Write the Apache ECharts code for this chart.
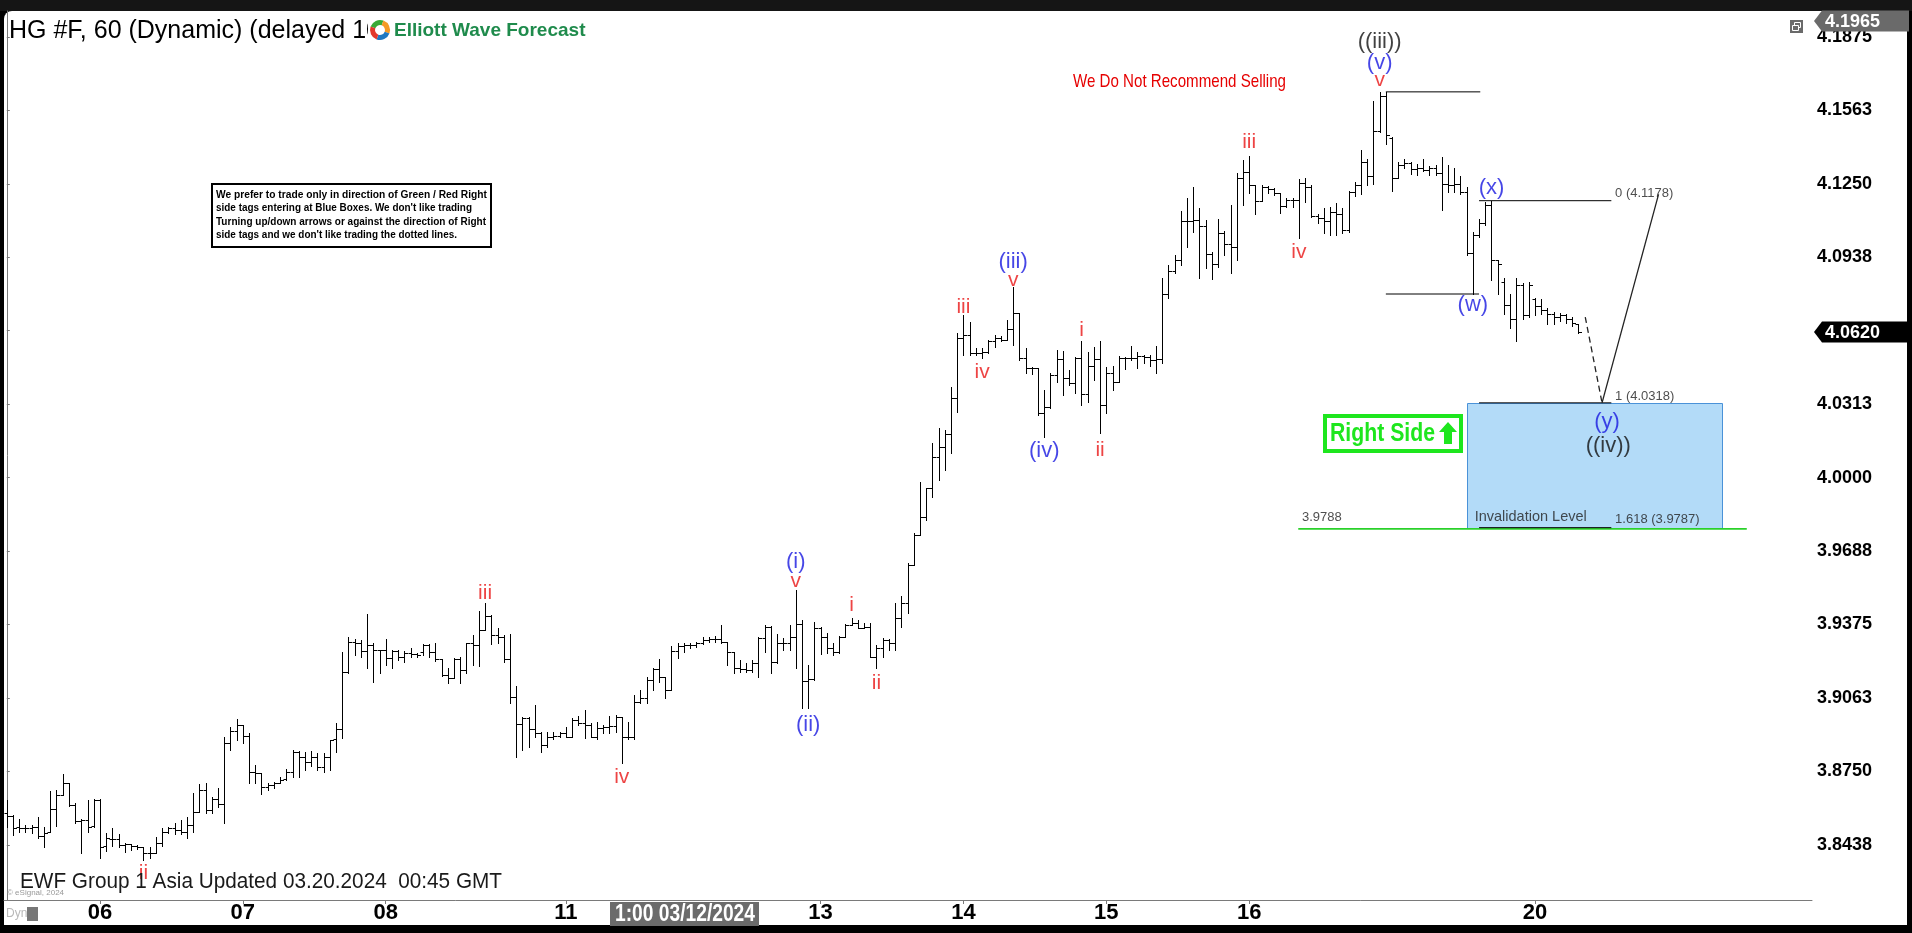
<!DOCTYPE html>
<html><head><meta charset="utf-8">
<script src="https://cdn.jsdelivr.net/npm/echarts@6/dist/echarts.min.js"></script>
<style>
html,body{margin:0;padding:0;background:#000;width:1912px;height:933px;overflow:hidden}
#topbar{position:absolute;left:0;top:0;width:1912px;height:11px;background:#151515}
#panel{position:absolute;left:4px;top:11px;width:1903px;height:914px;background:#fff;border-radius:8px 8px 0 0}
#chart{position:absolute;left:0;top:0;width:1912px;height:933px}
</style></head><body>
<div id="topbar"></div><div id="panel"></div><div id="chart"></div>
<script>
// ---------------- DATA ----------------
const opens = [3.8572,3.8560,3.8515,3.8511,3.8511,3.8515,3.8475,3.8494,3.8589,3.8650,
3.8699,3.8607,3.8541,3.8543,3.8519,3.8629,3.8433,3.8461,3.8461,3.8437,
3.8441,3.8433,3.8427,3.8402,3.8404,3.8444,3.8494,3.8508,3.8501,3.8494,
3.8522,3.8579,3.8671,3.8586,3.8631,3.8610,3.8872,3.8923,3.8948,3.8901,
3.8749,3.8742,3.8685,3.8692,3.8699,3.8716,3.8749,3.8834,3.8813,3.8792,
3.8813,3.8770,3.8813,3.8887,3.8929,3.9174,3.9302,3.9295,3.9264,3.9288,
3.9267,3.9267,3.9231,3.9264,3.9238,3.9252,3.9248,3.9260,3.9288,3.9260,
3.9227,3.9160,3.9146,3.9227,3.9182,3.9295,3.9288,3.9352,3.9413,3.9330,
3.9323,3.9227,3.9068,3.8952,3.8976,3.8929,3.8912,3.8862,3.8898,3.8901,
3.8912,3.8898,3.8969,3.8957,3.8948,3.8898,3.8933,3.8938,3.8943,3.8980,
3.8898,3.8898,3.9047,3.9061,3.9139,3.9184,3.9153,3.9097,3.9264,3.9284,
3.9288,3.9288,3.9295,3.9309,3.9312,3.9312,3.9302,3.9260,3.9189,3.9184,
3.9182,3.9210,3.9319,3.9366,3.9217,3.9295,3.9298,3.9323,3.9377,3.9136,
3.9142,3.9359,3.9323,3.9274,3.9260,3.9323,3.9373,3.9383,3.9362,3.9366,
3.9236,3.9274,3.9309,3.9298,3.9401,3.9465,3.9628,3.9756,3.9834,3.9955,
4.0089,4.0132,4.0186,4.0337,4.0593,4.0607,4.0529,4.0532,4.0536,4.0579,
4.0593,4.0586,4.0631,4.0699,4.0508,4.0465,4.0465,4.0274,4.0302,4.0437,
4.0503,4.0422,4.0404,4.0510,4.0356,4.0475,4.0503,4.0309,4.0447,4.0408,
4.0508,4.0510,4.0508,4.0517,4.0515,4.0500,4.0503,4.0781,4.0881,4.0926,
4.1093,4.1093,4.1096,4.1071,4.0950,4.0907,4.1039,4.0994,4.0980,4.1276,
4.1302,4.1245,4.1178,4.1238,4.1227,4.1210,4.1156,4.1181,4.1181,4.1252,
4.1236,4.1114,4.1104,4.1092,4.1130,4.1122,4.1054,4.1213,4.1243,4.1342,
4.1281,4.1474,4.1623,4.1443,4.1274,4.1331,4.1337,4.1312,4.1319,4.1307,
4.1319,4.1296,4.1251,4.1243,4.1251,4.1216,4.0955,4.1031,4.1084,4.1160,
4.0925,4.0834,4.0735,4.0675,4.0819,4.0690,4.0758,4.0728,4.0712,4.0697,
4.0682,4.0690,4.0675,4.0652];
const highs = [3.8629,3.8565,3.8546,3.8522,3.8522,3.8558,3.8515,3.8667,3.8671,3.8738,
3.8702,3.8614,3.8546,3.8629,3.8631,3.8631,3.8487,3.8508,3.8484,3.8444,
3.8441,3.8437,3.8430,3.8427,3.8470,3.8508,3.8515,3.8529,3.8543,3.8558,
3.8657,3.8697,3.8702,3.8643,3.8681,3.8898,3.8940,3.8972,3.8948,3.8912,
3.8777,3.8742,3.8699,3.8706,3.8728,3.8759,3.8841,3.8838,3.8834,3.8838,
3.8827,3.8827,3.8884,3.8958,3.9260,3.9321,3.9312,3.9309,3.9420,3.9295,
3.9267,3.9312,3.9267,3.9267,3.9264,3.9274,3.9255,3.9292,3.9292,3.9295,
3.9227,3.9189,3.9231,3.9235,3.9298,3.9330,3.9433,3.9468,3.9416,3.9359,
3.9330,3.9335,3.9113,3.8980,3.8980,3.9033,3.8919,3.8919,3.8919,3.8919,
3.8940,3.8976,3.8986,3.9011,3.8955,3.8962,3.8948,3.8986,3.8990,3.8980,
3.8962,3.9075,3.9097,3.9153,3.9189,3.9227,3.9153,3.9284,3.9298,3.9298,
3.9295,3.9302,3.9321,3.9323,3.9328,3.9373,3.9302,3.9260,3.9224,3.9210,
3.9224,3.9323,3.9373,3.9369,3.9335,3.9316,3.9373,3.9522,3.9394,3.9203,
3.9387,3.9366,3.9338,3.9295,3.9326,3.9377,3.9401,3.9394,3.9380,3.9380,
3.9288,3.9316,3.9312,3.9465,3.9497,3.9635,3.9763,3.9983,3.9955,4.0146,
4.0210,4.0203,4.0387,4.0614,4.0692,4.0664,4.0550,4.0550,4.0586,4.0607,
4.0603,4.0671,4.0812,4.0699,4.0550,4.0472,4.0465,4.0373,4.0444,4.0543,
4.0540,4.0458,4.0515,4.0579,4.0536,4.0557,4.0583,4.0469,4.0475,4.0517,
4.0515,4.0560,4.0536,4.0522,4.0522,4.0560,4.0848,4.0905,4.0947,4.1136,
4.1188,4.1235,4.1146,4.1096,4.0961,4.1099,4.1051,4.1160,4.1297,4.1351,
4.1368,4.1245,4.1245,4.1241,4.1231,4.1210,4.1188,4.1188,4.1269,4.1273,
4.1243,4.1122,4.1145,4.1152,4.1168,4.1145,4.1221,4.1259,4.1395,4.1357,
4.1600,4.1641,4.1641,4.1448,4.1342,4.1357,4.1342,4.1334,4.1357,4.1327,
4.1331,4.1365,4.1331,4.1319,4.1281,4.1236,4.1046,4.1099,4.1171,4.1178,
4.0925,4.0849,4.0781,4.0849,4.0826,4.0834,4.0766,4.0758,4.0720,4.0705,
4.0700,4.0697,4.0682,4.0652];
const lows = [3.8515,3.8480,3.8494,3.8494,3.8487,3.8465,3.8427,3.8494,3.8519,3.8650,
3.8604,3.8529,3.8404,3.8494,3.8515,3.8380,3.8412,3.8434,3.8430,3.8409,
3.8416,3.8419,3.8373,3.8383,3.8402,3.8434,3.8489,3.8484,3.8484,3.8465,
3.8494,3.8579,3.8572,3.8572,3.8600,3.8529,3.8841,3.8884,3.8872,3.8702,
3.8702,3.8653,3.8671,3.8681,3.8699,3.8714,3.8728,3.8728,3.8756,3.8773,
3.8756,3.8749,3.8756,3.8834,3.8891,3.9167,3.9245,3.9238,3.9189,3.9132,
3.9167,3.9203,3.9189,3.9224,3.9217,3.9238,3.9238,3.9245,3.9238,3.9221,
3.9156,3.9128,3.9146,3.9128,3.9167,3.9203,3.9199,3.9352,3.9292,3.9298,
3.9217,3.9040,3.8813,3.8841,3.8853,3.8898,3.8834,3.8853,3.8887,3.8898,
3.8898,3.8898,3.8948,3.8891,3.8898,3.8887,3.8912,3.8915,3.8919,3.8785,
3.8887,3.8887,3.9040,3.9040,3.9097,3.9132,3.9061,3.9097,3.9231,3.9260,
3.9274,3.9281,3.9292,3.9302,3.9302,3.9295,3.9203,3.9170,3.9174,3.9174,
3.9174,3.9150,3.9260,3.9167,3.9210,3.9267,3.9267,3.9189,3.9018,3.9018,
3.9139,3.9250,3.9253,3.9246,3.9255,3.9323,3.9373,3.9359,3.9359,3.9236,
3.9189,3.9238,3.9267,3.9267,3.9366,3.9423,3.9628,3.9756,3.9820,3.9919,
3.9990,4.0032,4.0103,4.0281,4.0522,4.0522,4.0522,4.0508,4.0529,4.0554,
4.0579,4.0586,4.0564,4.0501,4.0444,4.0441,4.0267,4.0174,4.0295,4.0408,
4.0352,4.0394,4.0359,4.0309,4.0323,4.0415,4.0189,4.0276,4.0373,4.0408,
4.0461,4.0500,4.0465,4.0489,4.0475,4.0447,4.0486,4.0763,4.0869,4.0905,
4.0980,4.1046,4.0848,4.0890,4.0844,4.0898,4.0947,4.0872,4.0926,4.1160,
4.1210,4.1122,4.1175,4.1210,4.1202,4.1127,4.1150,4.1153,4.1018,4.1174,
4.1107,4.1084,4.1039,4.1034,4.1031,4.1039,4.1046,4.1198,4.1205,4.1243,
4.1251,4.1471,4.1418,4.1221,4.1274,4.1319,4.1292,4.1289,4.1304,4.1286,
4.1286,4.1137,4.1213,4.1216,4.1205,4.0948,4.0781,4.1023,4.1073,4.0841,
4.0781,4.0697,4.0637,4.0579,4.0675,4.0682,4.0690,4.0697,4.0652,4.0652,
4.0667,4.0659,4.0644,4.0614];
const closes = [3.8560,3.8508,3.8511,3.8511,3.8515,3.8475,3.8489,3.8589,3.8650,3.8699,
3.8607,3.8541,3.8543,3.8515,3.8629,3.8430,3.8465,3.8461,3.8437,3.8441,
3.8433,3.8427,3.8402,3.8404,3.8444,3.8494,3.8508,3.8501,3.8494,3.8522,
3.8579,3.8671,3.8586,3.8631,3.8610,3.8870,3.8923,3.8948,3.8901,3.8749,
3.8742,3.8685,3.8692,3.8699,3.8714,3.8749,3.8834,3.8813,3.8792,3.8813,
3.8770,3.8813,3.8884,3.8929,3.9174,3.9302,3.9295,3.9264,3.9288,3.9267,
3.9267,3.9231,3.9264,3.9235,3.9252,3.9248,3.9245,3.9288,3.9260,3.9227,
3.9160,3.9146,3.9227,3.9182,3.9295,3.9288,3.9352,3.9413,3.9330,3.9323,
3.9227,3.9068,3.8952,3.8976,3.8929,3.8912,3.8862,3.8898,3.8901,3.8912,
3.8898,3.8969,3.8957,3.8948,3.8898,3.8933,3.8938,3.8943,3.8980,3.8898,
3.8898,3.9047,3.9061,3.9139,3.9184,3.9153,3.9097,3.9264,3.9284,3.9288,
3.9288,3.9295,3.9309,3.9312,3.9312,3.9302,3.9260,3.9189,3.9184,3.9182,
3.9210,3.9319,3.9366,3.9217,3.9295,3.9298,3.9323,3.9377,3.9136,3.9142,
3.9359,3.9323,3.9274,3.9260,3.9323,3.9373,3.9383,3.9362,3.9366,3.9236,
3.9274,3.9309,3.9298,3.9401,3.9465,3.9628,3.9756,3.9834,3.9955,4.0089,
4.0132,4.0186,4.0337,4.0593,4.0607,4.0529,4.0532,4.0536,4.0579,4.0593,
4.0586,4.0631,4.0699,4.0508,4.0465,4.0465,4.0274,4.0302,4.0437,4.0503,
4.0422,4.0404,4.0510,4.0356,4.0475,4.0503,4.0309,4.0447,4.0408,4.0508,
4.0510,4.0508,4.0517,4.0515,4.0500,4.0503,4.0781,4.0881,4.0926,4.1093,
4.1093,4.1096,4.1071,4.0950,4.0907,4.1039,4.0994,4.0980,4.1276,4.1302,
4.1245,4.1178,4.1238,4.1227,4.1210,4.1156,4.1181,4.1181,4.1252,4.1235,
4.1114,4.1104,4.1092,4.1130,4.1122,4.1054,4.1213,4.1243,4.1342,4.1281,
4.1474,4.1623,4.1456,4.1274,4.1331,4.1337,4.1312,4.1319,4.1307,4.1319,
4.1296,4.1251,4.1243,4.1251,4.1216,4.0955,4.1031,4.1084,4.1160,4.0925,
4.0910,4.0735,4.0675,4.0819,4.0690,4.0819,4.0728,4.0712,4.0697,4.0682,
4.0690,4.0675,4.0659,4.0620];

// x axis (bar index) ticks
const dayTickIdx = [15, 38, 61, 90, 131, 154, 177, 200, 246];
const dayTickLabels = ['06', '07', '08', '11', '13', '14', '15', '16', '20'];
const crossIdx = 109.2;
const crossLabel = '1:00 03/12/2024';
// y axis ticks
const yTicks = [3.84375, 3.875, 3.90625, 3.9375, 3.96875, 4.0, 4.03125, 4.0625, 4.09375, 4.125, 4.15625, 4.1875];
const yTickLabels = ['3.8438', '3.8750', '3.9063', '3.9375', '3.9688', '4.0000', '4.0313', '4.0625', '4.0938', '4.1250', '4.1563', '4.1875'];
const tagPrices = [4.0620, 4.1965];
const tagTexts = ['4.0620', '4.1965'];

// wave labels [barIndex, price, text]
const waveRed = [[22,3.8318,'ii'],[77,3.9507,'iii'],[99,3.8726,'iv'],[127,3.9560,'v'],
  [136,3.9458,'i'],[140,3.9126,'ii'],[154,4.0726,'iii'],[157,4.0449,'iv'],[162,4.0841,'v'],
  [173,4.0628,'i'],[176,4.0118,'ii'],[200,4.1428,'iii'],[208,4.0960,'iv'],[221,4.1692,'v']];
const waveBlue = [[127,3.9641,'(i)'],[129,3.8948,'(ii)'],[162,4.0917,'(iii)'],[167,4.0113,'(iv)'],
  [221,4.1764,'(v)'],[236,4.0734,'(w)'],[239,4.1232,'(x)'],[257.6,4.0237,'(y)']];
const waveBlack = [[221,4.1853,'((iii))'],[257.8,4.0135,'((iv))']];

// fibonacci tool segments
const fibSegments = [
  [[222.0,4.1641],[237.2,4.1641]],
  [[222.0,4.0781],[237.0,4.0781]],
  [[237.0,4.1178],[258.3,4.1178]],
  [[237.0,4.0318],[258.3,4.0318]],
  [[237.0,3.9787],[258.3,3.9787]]
];
const fibLabels = [[258.9,4.1207,'0 (4.1178)'],[258.9,4.0347,'1 (4.0318)'],[258.9,3.9824,'1.618 (3.9787)'],
  [236.3,3.9832,'Invalidation Level'],[208.5,3.9832,'3.9788']];
const invalidationLine = [[207.9,3.9782],[280.1,3.9782]];
const projDashed = [[254.1,4.0683],[256.8,4.0318]];
const projSolid = [[256.8,4.0318],[265.9,4.1205]];
const blueBox = [235.1, 276.1, 3.9787, 4.0318];

// ---------------- FONTS ----------------
const mctx = document.createElement('canvas').getContext('2d');
function hasFont(f){ mctx.font='40px monospace'; const a=mctx.measureText('abcdefghijWWWiii').width;
  mctx.font="40px '"+f+"', monospace"; return Math.abs(mctx.measureText('abcdefghijWWWiii').width-a)>0.5; }
const SANS = "'Liberation Sans', Arial, sans-serif";
const NARROW = hasFont('Liberation Sans Narrow') ? "'Liberation Sans Narrow'" : (hasFont('Arial Narrow') ? "'Arial Narrow'" : SANS);
// horizontal scale so that a text set in `font` spans `width` pixels (emulates a condensed face)
function sx(text, font, width){ mctx.font = font; return width / mctx.measureText(text).width; }
const fCross = 'bold 23px ' + NARROW;
const discLines = ['We prefer to trade only in direction of Green / Red Right','side tags entering at Blue Boxes. We don\'t like trading','Turning up/down arrows or against the direction of Right','side tags and we don\'t like trading the dotted lines.'];
const discWidths = [271, 256, 270, 241];
const fDisc = 'bold 11.5px ' + NARROW;
const ewfText = 'EWF Group 1 Asia Updated 03.20.2024  00:45 GMT';
const fEwf = '22px ' + NARROW;
const sellText = 'We Do Not Recommend Selling';
const fSell = '18.5px ' + NARROW;
const fRS = 'bold 26px ' + NARROW;

// ---------------- CHART ----------------
const chart = echarts.init(document.getElementById('chart'), null, {renderer:'canvas'});
const ohlcData = opens.map((o,i)=>[i, o, highs[i], lows[i], closes[i]]);
const px = v => Math.round(v) + 0.5;

function ohlcRender(params, api){
  const i = api.value(0);
  const o = api.coord([i, api.value(1)]), h = api.coord([i, api.value(2)]);
  const l = api.coord([i, api.value(3)]), c = api.coord([i, api.value(4)]);
  const x = px(o[0]);
  const st = {stroke:'#000', lineWidth:1};
  return {type:'group', children:[
    {type:'line', shape:{x1:x, y1:Math.round(h[1]), x2:x, y2:Math.round(l[1])+1}, style:st},
    {type:'line', shape:{x1:x-3, y1:px(o[1]), x2:x, y2:px(o[1])}, style:st},
    {type:'line', shape:{x1:x, y1:px(c[1]), x2:x+3.5, y2:px(c[1])}, style:st}
  ]};
}
function labelSeries(arr, color, size){
  return {type:'scatter', data:arr.map(d=>[d[0],d[1]]), symbolSize:0, silent:true, z:6, clip:false,
    itemStyle:{color:'transparent'},
    label:{show:true, position:'inside', formatter:p=>arr[p.dataIndex][2], color:color, fontSize:size, fontFamily:SANS}};
}
function segSeries(data, color, width, type, z){
  return {type:'line', data:data, symbol:'none', silent:true, z:z||4, clip:false,
    lineStyle:{color:color, width:width, type:type||'solid'}};
}
const series = [];
series.push({type:'custom', data:[blueBox], z:1, clip:false, silent:true,
  renderItem:(p,api)=>{ const a=api.coord([api.value(0),api.value(3)]); const b=api.coord([api.value(1),api.value(2)]);
    return {type:'rect', shape:{x:px(a[0]), y:px(a[1]), width:Math.round(b[0]-a[0]), height:Math.round(b[1]-a[1])},
      style:{fill:'#b3dbf8', stroke:'#4a92d8', lineWidth:1}}; }});
series.push({type:'custom', data:ohlcData, z:3, silent:true, renderItem:ohlcRender});
fibSegments.forEach(s=>series.push(segSeries(s,'#000',1)));
series.push(segSeries(invalidationLine,'#2ad12a',1.6,'solid',3));
series.push(segSeries(projDashed,'#222',1.3,[6,4]));
series.push(segSeries(projSolid,'#222',1.3));
series.push(labelSeries(waveRed,'#e81515',21));
series.push(labelSeries(waveBlue,'#1818e0',22));
series.push(labelSeries(waveBlack,'#111',22));
series.push({type:'scatter', symbolSize:0, silent:true, z:6, clip:false,
  data:fibLabels.map((d,i)=>({value:[d[0],d[1]], label: i===3 ? {fontSize:14.5} : {}})),
  itemStyle:{color:'transparent'},
  label:{show:true, position:'right', distance:0, formatter:p=>fibLabels[p.dataIndex][2], color:'#222', fontSize:13, fontFamily:SANS}});
// price tags on y axis (kept inside the panel)
series.push({type:'custom', data:tagPrices.map(v=>[290.6, v]), z:20, clip:false, silent:true,
  renderItem:(p,api)=>{ const c=api.coord([api.value(0),api.value(1)]); const x0=c[0]+2;
    const yc=Math.max(Math.round(c[1]), 21);
    const fill = p.dataIndex===0 ? '#000' : '#6a6a6a';
    return {type:'group', children:[
      {type:'polygon', shape:{points:[[x0,yc],[x0+8,yc-10.5],[x0+95,yc-10.5],[x0+95,yc+10.5],[x0+8,yc+10.5]]}, style:{fill:fill}},
      {type:'text', style:{text:tagTexts[p.dataIndex], x:x0+11, y:yc+1, fill:'#fff', font:'bold 18px '+SANS, align:'left', verticalAlign:'middle', textAlign:'left', textVerticalAlign:'middle'}}
    ]}; }});
// crosshair time tag on x axis
series.push({type:'custom', data:[[crossIdx, 3.8203]], z:20, clip:false, silent:true,
  renderItem:(p,api)=>{ const c=api.coord([api.value(0),api.value(1)]); const xc=Math.round(c[0]), y0=Math.round(c[1])+2;
    return {type:'group', children:[
      {type:'rect', shape:{x:xc-75, y:y0, width:149, height:24}, style:{fill:'#6b6b6b'}},
      {type:'text', x:xc, y:y0+13, scaleX:sx(crossLabel,fCross,140), style:{text:crossLabel, x:0, y:0, fill:'#fff', font:fCross, align:'center', verticalAlign:'middle', textAlign:'center', textVerticalAlign:'middle'}}
    ]}; }});

// graphic overlays
const G = [];
G.push({type:'text', x:9, y:31, z:50, style:{text:'HG #F, 60 (Dynamic) (delayed 10', fill:'#000', font:'25px '+SANS, verticalAlign:'middle', textVerticalAlign:'middle'}});
G.push({type:'rect', x:368, y:14, z:51, shape:{width:230, height:32}, style:{fill:'#fff'}});
[['#3aa935',200,290],['#f59a23',290,20],['#1f78c1',20,110],['#e2382c',110,200]].forEach(a=>{
  G.push({type:'arc', z:52, shape:{cx:380, cy:30, r:7.5, startAngle:a[1]*Math.PI/180, endAngle:a[2]*Math.PI/180}, style:{stroke:a[0], lineWidth:5, fill:null}});
});
G.push({type:'text', x:394, y:31, z:52, style:{text:'Elliott Wave Forecast', fill:'#1f8b4c', font:'bold 19px '+SANS, verticalAlign:'middle', textVerticalAlign:'middle'}});
G.push({type:'rect', x:1790, y:20, z:50, shape:{width:13, height:13}, style:{fill:'#6a6a6a'}});
G.push({type:'rect', x:1794.5, y:22.5, z:51, shape:{width:6, height:5}, style:{fill:null, stroke:'#fff', lineWidth:1}});
G.push({type:'rect', x:1792.5, y:25.5, z:51, shape:{width:6, height:5}, style:{fill:'#6a6a6a', stroke:'#fff', lineWidth:1}});
G.push({type:'text', x:1073, y:82, z:50, scaleX:sx(sellText,fSell,213), style:{text:sellText, fill:'#e60000', font:fSell, verticalAlign:'middle', textVerticalAlign:'middle'}});
G.push({type:'rect', x:212, y:184, z:50, shape:{width:279, height:63}, style:{fill:'#fff', stroke:'#000', lineWidth:2}});
discLines.forEach((t,k)=>G.push({type:'text', x:216, y:194.5+k*13.5, z:51, scaleX:sx(t,fDisc,discWidths[k]), style:{text:t, fill:'#000', font:fDisc, verticalAlign:'middle', textVerticalAlign:'middle'}}));
G.push({type:'rect', x:1325, y:416, z:50, shape:{width:136, height:35}, style:{fill:'#fff', stroke:'#1ee61e', lineWidth:4}});
G.push({type:'text', x:1330, y:434, z:51, scaleX:sx('Right Side',fRS,105), style:{text:'Right Side', fill:'#1ee61e', font:fRS, verticalAlign:'middle', textVerticalAlign:'middle'}});
G.push({type:'polygon', z:51, shape:{points:[[1448,422],[1457,432],[1452,432],[1452,444],[1444,444],[1444,432],[1439,432]]}, style:{fill:'#1ee61e'}});
G.push({type:'text', x:20, y:882, z:50, scaleX:sx(ewfText,fEwf,482), style:{text:ewfText, fill:'#1a1a1a', font:fEwf, verticalAlign:'middle', textVerticalAlign:'middle', shadowBlur:3, shadowColor:'rgba(0,0,0,0.55)', shadowOffsetX:2, shadowOffsetY:2}});
G.push({type:'text', x:7, y:893, z:49, style:{text:'© eSignal, 2024', fill:'#999', font:'8px '+SANS, verticalAlign:'middle', textVerticalAlign:'middle'}});
G.push({type:'text', x:6, y:914, z:50, style:{text:'Dyn', fill:'#b8b8b8', font:'12px '+NARROW, verticalAlign:'middle', textVerticalAlign:'middle'}});
G.push({type:'rect', x:27, y:907, z:50, shape:{width:11, height:14}, style:{fill:'#777'}});

chart.setOption({
  animation:false,
  backgroundColor:'transparent',
  grid:{left:4, top:11, width:1808, height:889, containLabel:false, outerBoundsMode:'none', show:false},
  xAxis:{type:'value', min:-0.45, max:290.6, position:'bottom',
    axisLine:{show:true, onZero:false, lineStyle:{color:'#7a7a7a', width:1}},
    axisTick:{show:true, customValues:dayTickIdx, length:4, lineStyle:{color:'#7a7a7a'}},
    axisLabel:{show:true, customValues:dayTickIdx, margin:2, color:'#000', fontWeight:'bold', fontFamily:NARROW, fontSize:22,
      formatter:v=>{const k=dayTickIdx.findIndex(t=>Math.abs(t-v)<1e-6); return k<0?'':dayTickLabels[k];}},
    splitLine:{show:false}},
  yAxis:{type:'value', position:'right', min:3.8203, max:4.1985,
    axisLine:{show:true, lineStyle:{color:'#7a7a7a', width:1}},
    axisTick:{show:true, customValues:yTicks, length:3, inside:false, lineStyle:{color:'#7a7a7a'}},
    axisLabel:{show:true, customValues:yTicks, margin:5, color:'#000', fontWeight:'bold', fontSize:18, fontFamily:SANS,
      formatter:v=>{const k=yTicks.findIndex(t=>Math.abs(t-v)<1e-6); return k<0?'':yTickLabels[k];}},
    splitLine:{show:false}},
  graphic:{elements:G},
  series:series
});
</script></body></html>
